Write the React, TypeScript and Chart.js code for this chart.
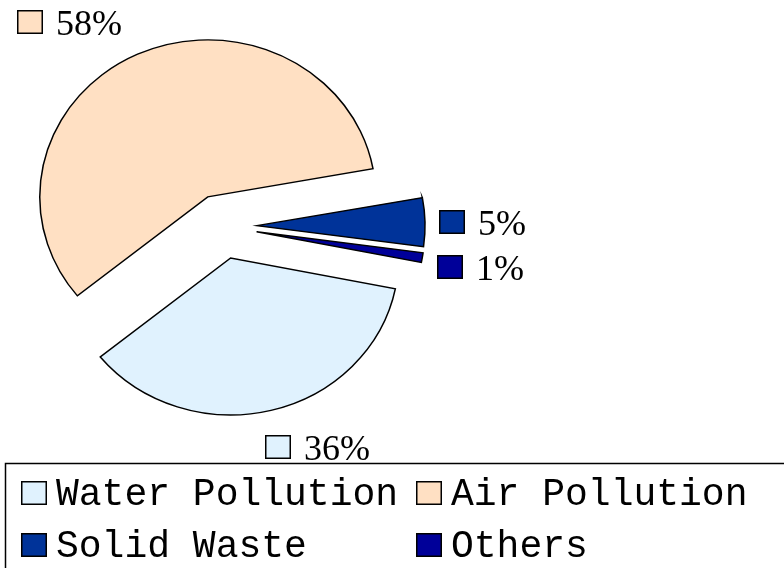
import { useEffect, useRef } from "react";
import { Chart, registerables } from "chart.js";

Chart.register(...registerables);

// ---- data ----
const categories = ["Water Pollution", "Air Pollution", "Solid Waste", "Others"];
const shares = [36, 58, 5, 1];
const sliceColors = ["#E0F2FE", "#FFE0C3", "#003399", "#000099"];

// ---- layout / style ----
const ROTATION = 101.3; // degrees, Chart.js (0 = 12 o'clock)
const RADIUS = 157;
const EXPLODE = 32.5;
const STRETCH_X = 1.07;
const LABEL_NUDGE: [number, number][] = [
  [-6, 36.6],
  [-120.6, -32.3],
  [14, -0.4],
  [14.6, 9.6],
];
const LABEL_FONT = "36px 'Liberation Serif'";
const LEGEND_FONT = "38px 'Liberation Mono'";

function pieCenter(chart: any) {
  const a = chart.chartArea;
  return { cx: (a.left + a.right) / 2, cy: (a.top + a.bottom) / 2 };
}

const explodePlugin = {
  id: "explodeStretch",
  afterDatasetUpdate(_chart: any, args: any) {
    args.meta.data.forEach((arc: any) => {
      const mid = (arc.startAngle + arc.endAngle) / 2;
      arc.x += Math.cos(mid) * EXPLODE;
      arc.y += Math.sin(mid) * EXPLODE;
    });
  },
  beforeDatasetsDraw(chart: any) {
    const { ctx } = chart;
    const { cx, cy } = pieCenter(chart);
    ctx.save();
    ctx.translate(cx, cy);
    ctx.scale(STRETCH_X, 1);
    ctx.translate(-cx, -cy);
  },
  afterDatasetsDraw(chart: any) {
    chart.ctx.restore();
  },
};

const labelPlugin = {
  id: "sliceLabels",
  afterDraw(chart: any) {
    const { ctx } = chart;
    const { cx } = pieCenter(chart);
    const meta = chart.getDatasetMeta(0);
    const data: number[] = chart.data.datasets[0].data;
    const bg: string[] = chart.data.datasets[0].backgroundColor;
    const total = data.reduce((s, v) => s + v, 0);
    ctx.save();
    meta.data.forEach((arc: any, i: number) => {
      const mid = (arc.startAngle + arc.endAngle) / 2;
      const ax = cx + STRETCH_X * (arc.x + Math.cos(mid) * arc.outerRadius - cx);
      const ay = arc.y + Math.sin(mid) * arc.outerRadius;
      const left = Math.round(ax + LABEL_NUDGE[i][0]);
      const midY = Math.round(ay + LABEL_NUDGE[i][1]);
      ctx.fillStyle = bg[i];
      ctx.fillRect(left, midY - 12, 26, 24);
      ctx.strokeStyle = "#000";
      ctx.lineWidth = 1.5;
      ctx.strokeRect(left + 0.75, midY - 11.25, 24.5, 22.5);
      ctx.fillStyle = "#000";
      ctx.font = LABEL_FONT;
      ctx.textBaseline = "alphabetic";
      ctx.textAlign = "left";
      ctx.fillText(Math.round((data[i] / total) * 100) + "%", left + 39, midY + 12.5);
    });
    ctx.restore();
  },
};

const legendPlugin = {
  id: "boxLegend",
  afterDraw(chart: any) {
    const { ctx, width, height } = chart;
    const labels: string[] = chart.data.labels;
    const bg: string[] = chart.data.datasets[0].backgroundColor;
    const top = height - 105;
    const boxLeft = 5;
    ctx.save();
    ctx.strokeStyle = "#000";
    ctx.lineWidth = 1.5;
    ctx.strokeRect(boxLeft + 0.5, top + 0.5, width + 20, 200);
    ctx.font = LEGEND_FONT;
    ctx.textBaseline = "alphabetic";
    ctx.textAlign = "left";
    const sq = 26;
    const sqH = 24;
    const gap = 9;
    const col1Width = Math.max(
      ...labels.filter((_, i) => i % 2 === 0).map((l) => ctx.measureText(l).width)
    );
    const colX = [20.5, 20.5 + sq + gap + col1Width + 18];
    const rowBase = [top + 42, top + 93.5];
    labels.forEach((lab, i) => {
      const x = Math.round(colX[i % 2]);
      const base = Math.round(rowBase[Math.floor(i / 2)]);
      ctx.fillStyle = bg[i];
      ctx.fillRect(x, base - sqH, sq, sqH);
      ctx.strokeStyle = "#000";
      ctx.lineWidth = 1.5;
      ctx.strokeRect(x + 0.75, base - sqH + 0.75, sq - 1.5, sqH - 1.5);
      ctx.fillStyle = "#000";
      ctx.fillText(lab, x + sq + gap, base);
    });
    ctx.restore();
  },
};

export default function App() {
  const canvasRef = useRef<HTMLCanvasElement | null>(null);

  useEffect(() => {
    if (!canvasRef.current) return;
    const W = 784;
    const H = 568;
    const cx = 222.3;
    const cy = 226.4;
    const chart = new Chart(canvasRef.current, {
      type: "pie",
      data: {
        labels: categories,
        datasets: [
          {
            data: shares,
            backgroundColor: sliceColors,
            borderColor: "#000000",
            borderWidth: 1.4,
            borderJoinStyle: "miter",
            radius: RADIUS,
          } as any,
        ],
      },
      options: {
        animation: false,
        responsive: true,
        maintainAspectRatio: false,
        rotation: ROTATION,
        layout: {
          padding: { left: 0, top: 0, right: W - 2 * cx, bottom: H - 2 * cy },
        },
        plugins: {
          legend: { display: false },
          tooltip: { enabled: false },
          title: { display: false },
        },
        events: [],
      } as any,
      plugins: [explodePlugin, labelPlugin, legendPlugin],
    });
    return () => chart.destroy();
  }, []);

  return (
    <div
      style={{
        position: "absolute",
        left: 0,
        top: 0,
        width: "784px",
        height: "568px",
        background: "#fff",
      }}
    >
      <canvas ref={canvasRef} />
    </div>
  );
}
